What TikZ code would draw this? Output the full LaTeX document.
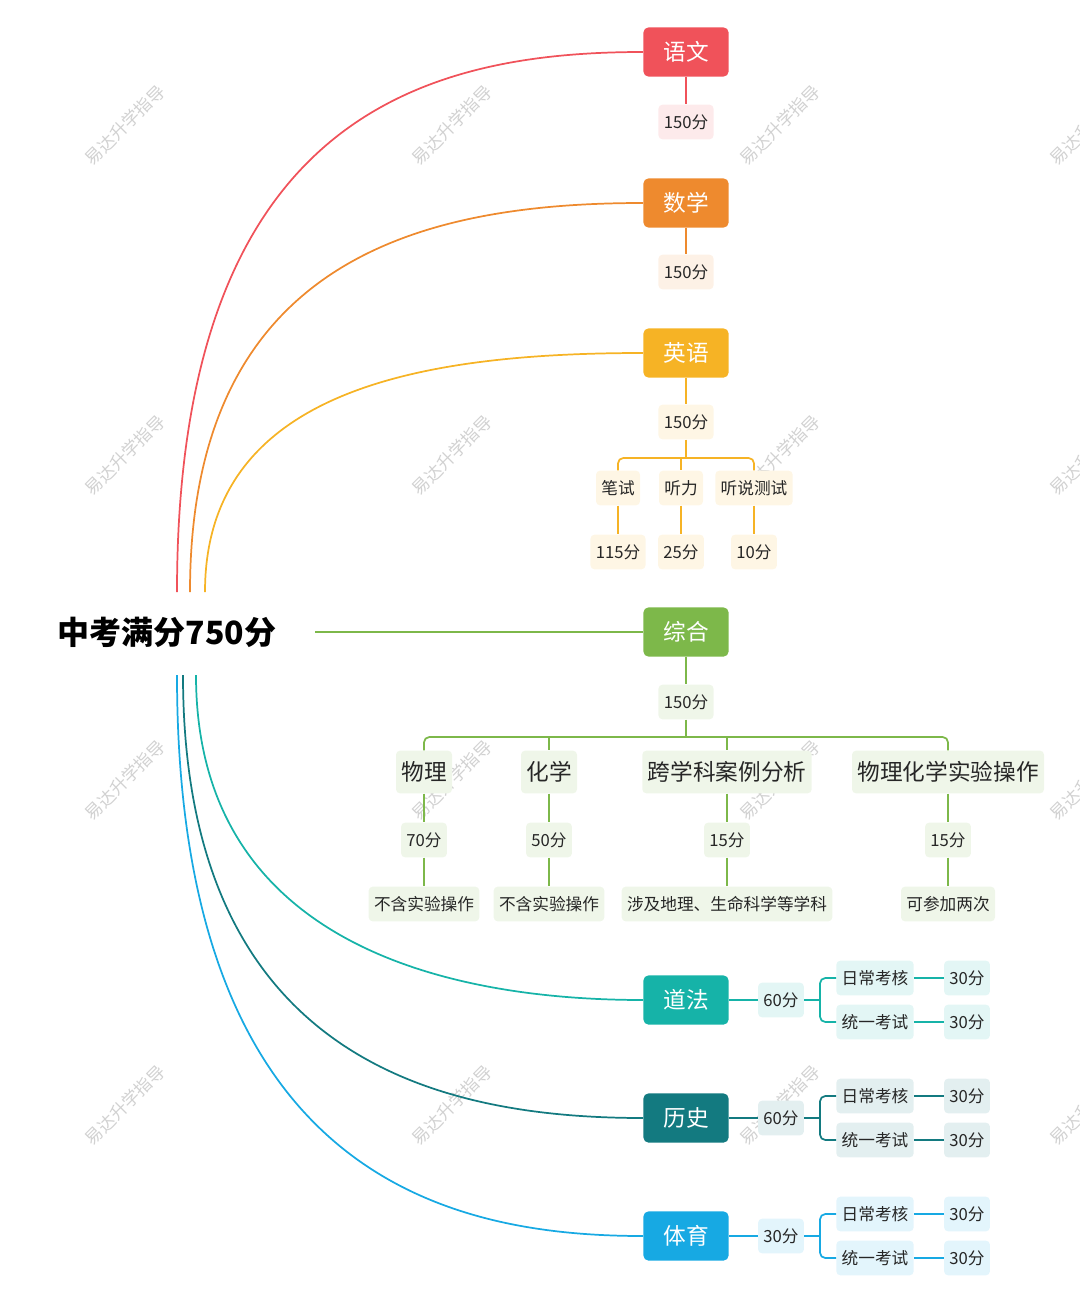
\documentclass[tikz,border=0pt]{standalone}
\usepackage{fontspec}
\setmainfont{Noto Sans CJK SC}
\usetikzlibrary{positioning}

\definecolor{cyw}{HTML}{F0525A}
\definecolor{csx}{HTML}{EE8A2E}
\definecolor{cyy}{HTML}{F6B325}
\definecolor{czh}{HTML}{7DB84A}
\definecolor{cdf}{HTML}{16B3A8}
\definecolor{cls}{HTML}{137A80}
\definecolor{cty}{HTML}{17A9E3}

\tikzset{
  subj/.style={rectangle, rounded corners=4pt, fill=#1, text=white, minimum width=64pt, minimum height=37pt, font=\fontsize{17}{20}\selectfont},
  leaf/.style={rectangle, rounded corners=3pt, fill=#1!12, text=black!85, inner sep=4pt, minimum height=26pt, font=\fontsize{12.5}{14}\selectfont},
  sub/.style={rectangle, rounded corners=3pt, fill=#1!12, text=black!85, inner sep=4pt, minimum height=32pt, font=\fontsize{17}{19}\selectfont},
  link/.style={draw=#1, line width=1.3pt},
}

\begin{document}
\begin{tikzpicture}[x=0.75pt, y=-0.75pt]
  \useasboundingbox (0,0) rectangle (1080,1306);

  % watermarks
  \foreach \wx in {125,452,780,1090}
    \foreach \wy in {125,455,780,1105}
      \node[rotate=45, text=black!18, font=\fontsize{13}{15}\selectfont] at (\wx,\wy) {易达升学指导};

  \node[font=\bfseries\fontsize{24}{28}\selectfont] (root) at (167,632) {中考满分750分};

  % subjects
  \node[subj=cyw] (yw) at (686,52)   {语文};
  \node[subj=csx] (sx) at (686,203)  {数学};
  \node[subj=cyy] (yy) at (686,353)  {英语};
  \node[subj=czh] (zh) at (686,632)  {综合};
  \node[subj=cdf] (df) at (686,1000) {道法};
  \node[subj=cls] (ls) at (686,1118) {历史};
  \node[subj=cty] (ty) at (686,1236) {体育};

  % root curves
  \coordinate (a1) at (177,592); \coordinate (a2) at (190,592); \coordinate (a3) at (205,592);
  \coordinate (b1) at (177,675); \coordinate (b2) at (183,675); \coordinate (b3) at (196,675);
  \draw[link=cyw] (a1) .. controls (177,120) and (420,52) .. (yw.west);
  \draw[link=csx] (a2) .. controls (190,260) and (420,203) .. (sx.west);
  \draw[link=cyy] (a3) .. controls (205,390) and (420,353) .. (yy.west);
  \draw[link=czh] (315,632) -- (zh.west);
  \draw[link=cdf] (b3) .. controls (196,940) and (440,1000) .. (df.west);
  \draw[link=cls] (b2) .. controls (183,1060) and (440,1118) .. (ls.west);
  \draw[link=cty] (b1) .. controls (177,1170) and (440,1236) .. (ty.west);

  % scores
  \node[leaf=cyw] (yws) at (686,122) {150分};
  \node[leaf=csx] (sxs) at (686,272) {150分};
  \node[leaf=cyy] (yys) at (686,422) {150分};
  \node[leaf=czh] (zhs) at (686,702) {150分};
  \draw[link=cyw] (yw) -- (yws);
  \draw[link=csx] (sx) -- (sxs);
  \draw[link=cyy] (yy) -- (yys);
  \draw[link=czh] (zh) -- (zhs);

  % English parts
  \node[leaf=cyy] (bs) at (618,488) {笔试};
  \node[leaf=cyy] (tl) at (681,488) {听力};
  \node[leaf=cyy] (ts) at (754,488) {听说测试};
  \node[leaf=cyy] (bsf) at (618,552) {115分};
  \node[leaf=cyy] (tlf) at (681,552) {25分};
  \node[leaf=cyy] (tsf) at (754,552) {10分};
  \draw[link=cyy] (yys) -- (686,458);
  \draw[link=cyy, rounded corners=4pt] (bs) |- (754,458) -- (ts);
  \draw[link=cyy] (681,458) -- (tl);
  \foreach \p in {bs,tl,ts} \draw[link=cyy] (\p) -- (\p f);

  % Composite parts
  \node[sub=czh] (wl) at (424,772) {物理};
  \node[sub=czh] (hx) at (549,772) {化学};
  \node[sub=czh] (kx) at (727,772) {跨学科案例分析};
  \node[sub=czh] (sy) at (948,772) {物理化学实验操作};
  \node[leaf=czh] (wlf) at (424,840) {70分};
  \node[leaf=czh] (hxf) at (549,840) {50分};
  \node[leaf=czh] (kxf) at (727,840) {15分};
  \node[leaf=czh] (syf) at (948,840) {15分};
  \node[leaf=czh] (wln) at (424,904) {不含实验操作};
  \node[leaf=czh] (hxn) at (549,904) {不含实验操作};
  \node[leaf=czh] (kxn) at (727,904) {涉及地理、生命科学等学科};
  \node[leaf=czh] (syn) at (948,904) {可参加两次};
  \draw[link=czh] (zhs) -- (686,737);
  \draw[link=czh, rounded corners=4pt] (wl) |- (948,737) -- (sy);
  \draw[link=czh] (549,737) -- (hx);
  \draw[link=czh] (727,737) -- (kx);
  \foreach \p in {wl,hx,kx,sy} \draw[link=czh] (\p) -- (\p f) -- (\p n);

  % right-hand subjects
  \foreach \s/\c/\y/\v in {df/cdf/1000/60分, ls/cls/1118/60分, ty/cty/1236/30分} {
    \node[leaf=\c] (\s f) at (781,\y) {\v};
    \node[leaf=\c] (\s r) at (875,\y-22) {日常考核};
    \node[leaf=\c] (\s t) at (875,\y+22) {统一考试};
    \node[leaf=\c] (\s rf) at (967,\y-22) {30分};
    \node[leaf=\c] (\s tf) at (967,\y+22) {30分};
    \draw[link=\c] (\s) -- (\s f);
    \draw[link=\c] (\s f) -- (820,\y);
    \draw[link=\c, rounded corners=4pt] (\s r.west) -| (820,\y) |- (\s t.west);
    \draw[link=\c] (\s r) -- (\s rf);
    \draw[link=\c] (\s t) -- (\s tf);
  }
\end{tikzpicture}
\end{document}
